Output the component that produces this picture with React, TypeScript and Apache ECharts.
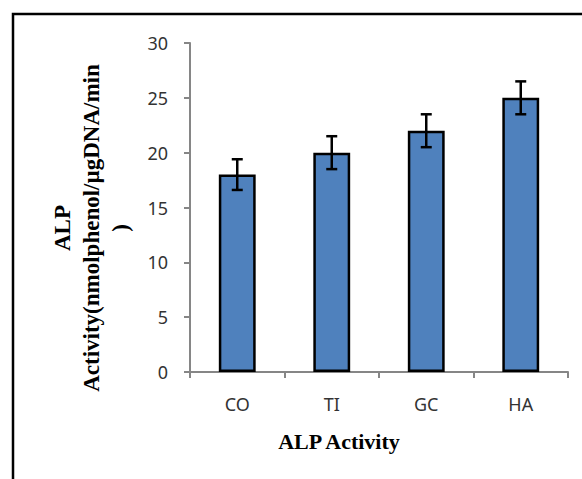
import React, { useEffect, useRef } from "react";
import * as echarts from "echarts";

const categories = ["CO", "TI", "GC", "HA"];
const values = [18, 20, 22, 25];
const errors = [1.4, 1.5, 1.5, 1.5];
const yTitleLines = ["ALP", "Activity(nmolphenol/µgDNA/min", ")"];
const xTitle = "ALP Activity";

export default function App() {
  const ref = useRef<HTMLDivElement>(null);
  useEffect(() => {
    if (!ref.current) return;
    const chart = echarts.init(ref.current, undefined, { renderer: "svg" });
    const errData = categories.map((c, i) => [i, values[i] - errors[i], values[i] + errors[i]]);
    chart.setOption({
      animation: false,
      backgroundColor: "#ffffff",
      grid: { left: 190, top: 43, width: 378, height: 329 },
      xAxis: {
        type: "category",
        data: categories,
        axisLine: { lineStyle: { color: "#868686", width: 2 } },
        axisTick: { show: true, length: 6, lineStyle: { color: "#868686", width: 2 } },
        axisLabel: { color: "#333333", fontSize: 18, fontFamily: "Noto Sans", margin: 23 },
      },
      yAxis: {
        type: "value",
        min: 0,
        max: 30,
        interval: 5,
        splitLine: { show: false },
        axisLine: { show: true, lineStyle: { color: "#868686", width: 2 } },
        axisTick: { show: true, length: 6, lineStyle: { color: "#868686", width: 2 } },
        axisLabel: { color: "#333333", fontSize: 18, fontFamily: "Noto Sans", margin: 22 },
      },
      series: [
        {
          type: "bar",
          data: values,
          barWidth: "39%",
          itemStyle: { color: "#4F81BD", borderColor: "#000000", borderWidth: 2.5 },
          z: 2,
        },
        {
          type: "custom",
          data: errData,
          z: 3,
          renderItem: (params: any, api: any) => {
            const x = api.value(0);
            const lo = api.coord([x, api.value(1)]);
            const hi = api.coord([x, api.value(2)]);
            const hw = 5.5;
            const style = { stroke: "#000000", lineWidth: 2.5 };
            return {
              type: "group",
              children: [
                { type: "line", shape: { x1: lo[0], y1: lo[1], x2: hi[0], y2: hi[1] }, style },
                { type: "line", shape: { x1: hi[0] - hw, y1: hi[1], x2: hi[0] + hw, y2: hi[1] }, style },
                { type: "line", shape: { x1: lo[0] - hw, y1: lo[1], x2: lo[0] + hw, y2: lo[1] }, style },
              ],
            };
          },
        },
      ],
      graphic: [
        {
          type: "rect",
          shape: { x: 13, y: 14, width: 620, height: 520 },
          style: { fill: "none", stroke: "#000000", lineWidth: 2.5 },
          silent: true,
        },
        {
          type: "text",
          x: 339,
          y: 441,
          style: {
            text: xTitle,
            font: "bold 22px 'Liberation Serif'",
            fill: "#000000",
            textAlign: "center",
            textVerticalAlign: "middle",
          },
        },
        {
          type: "text",
          x: 91,
          y: 228,
          rotation: Math.PI / 2,
          style: {
            text: yTitleLines.join("\n"),
            font: "bold 23px 'Liberation Serif'",
            fill: "#000000",
            textAlign: "center",
            textVerticalAlign: "middle",
            lineHeight: 29,
          },
        },
      ],
    });
    return () => chart.dispose();
  }, []);
  return (
    <div
      ref={ref}
      style={{ position: "fixed", left: 0, top: 0, width: 582, height: 479 }}
    />
  );
}
